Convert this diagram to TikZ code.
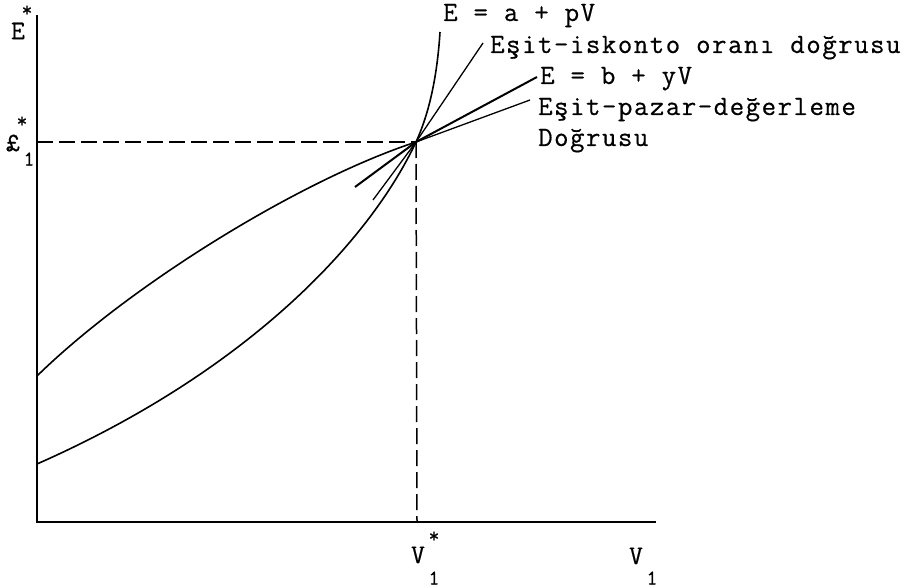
\documentclass[tikz,border=0pt]{standalone}
\usepackage{fontspec}
\newfontfamily\tw{Latin Modern Mono}[LetterSpace=5.5, FakeBold=0.5]
\newfontfamily\twplain{Latin Modern Mono}[FakeBold=0.5]
\begin{document}
\begin{tikzpicture}[x=1pt,y=-1pt,
  lbl/.style={font=\tw\fontsize{28}{30}\selectfont, inner sep=0pt, anchor=base west},
  axlbl/.style={font=\twplain\fontsize{27}{30}\selectfont, inner sep=0pt},
  sup/.style={font=\twplain\fontsize{21}{24}\selectfont, inner sep=0pt},
  axis/.style={line width=2pt},
  curve/.style={line width=1.6pt},
  tang/.style={line width=1.3pt},
  guide/.style={line width=1.5pt, dash pattern=on 16pt off 6pt}]
\useasboundingbox (0,0) rectangle (923,588);
% axes
\coordinate (O) at (37,522);
\coordinate (ytop) at (37,15);
\coordinate (xend) at (656,522);
\draw[axis] (ytop) -- (O) -- (xend);
% tangent point
\coordinate (P) at (416,142);
\coordinate (Py) at (37,142);
\coordinate (Px) at (417,522);
\draw[guide] (Py) -- (P);
\draw[guide] (P) -- (Px);
% curves
\coordinate (u0) at (37,376);
\coordinate (l0) at (37,464);
\coordinate (ltop) at (440,32);
\draw[curve] (u0) .. controls (130,285) and (300,180) .. (P);
\draw[curve] (l0) .. controls (250,370) and (370,240) .. (P)
  .. controls (428,116) and (437,80) .. (ltop);
% lines through P
\coordinate (b1) at (355,187);
\coordinate (b2) at (537,77);
\draw[line width=2pt] (b1) -- (P) -- (b2);
\coordinate (i1) at (373,200);
\coordinate (i2) at (483,43);
\draw[tang] (i1) -- (P) -- (i2);
\coordinate (m2) at (530,100);
\draw[tang] (P) -- (m2);
% labels
\node[lbl] (la) at (443,21) {E = a + pV};
\node[lbl] (li) at (490,53) {Eşit-iskonto oranı doğrusu};
\node[lbl] (lb) at (540,84) {E = b + yV};
\node[lbl] (lm) at (538,115) {Eşit-pazar-değerleme};
\node[lbl] (ld) at (538,146) {Doğrusu};
% axis labels
\node[axlbl] (ey) at (18,31) {E};
\node[sup] (eys) at (27,11) {*};
\node[axlbl] (le) at (13,143) {£};
\node[sup] (les) at (22,122) {*};
\node[sup] (le1) at (29,159) {1};
\node[axlbl] (v1s) at (418,555) {V};
\node[sup] (v1ss) at (434,537) {*};
\node[sup] (v1s1) at (434,578) {1};
\node[axlbl] (v1) at (636,556) {V};
\node[sup] (v11) at (652,578) {1};
\end{tikzpicture}
\end{document}
